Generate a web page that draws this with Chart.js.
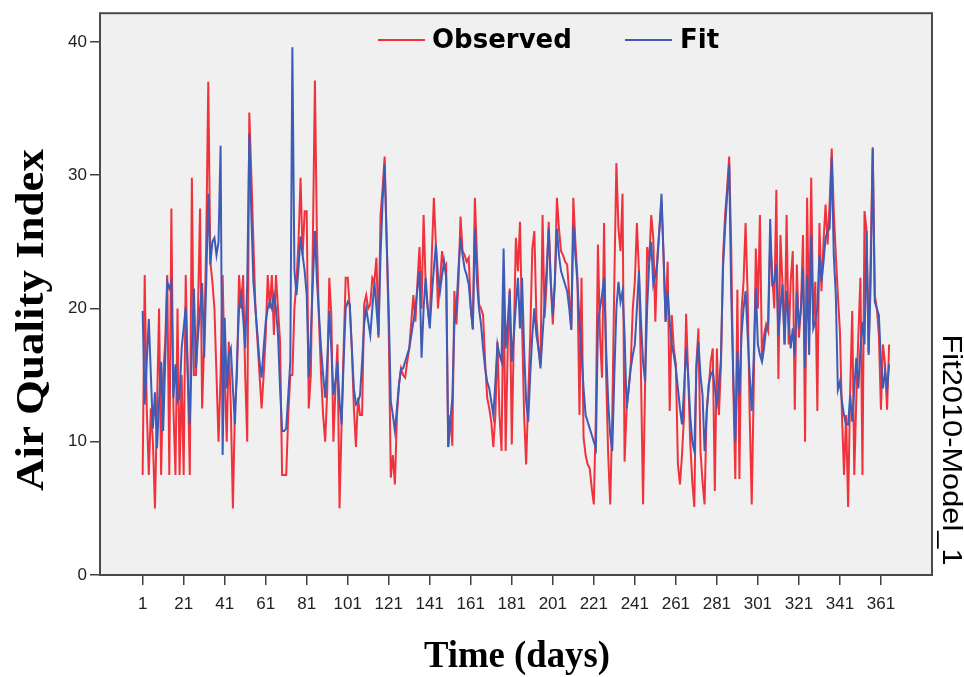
<!DOCTYPE html>
<html>
<head>
<meta charset="utf-8">
<title>Fit2010-Model_1</title>
<script src="https://cdn.jsdelivr.net/npm/chart.js@4.4.1/dist/chart.umd.min.js"></script>
<style>
  html, body { margin: 0; padding: 0; background: #ffffff; }
</style>
</head>
<body>
<canvas id="aqiChart" width="964" height="677"></canvas>
<script>
"use strict";

// Daily Air Quality Index, 2010
var OBSERVED = [
    7.5, 22.5, 12.5, 7.5, 12.5, 10, 5, 12.5, 20, 7.5,
    15, 17.5, 22.5, 7.5, 27.5, 12.5, 7.5, 20, 7.5, 15,
    7.5, 22.5, 15, 7.5, 29.8, 15, 15, 20, 27.5, 12.5,
    17.5, 25, 37, 23.5, 22, 20, 15, 10, 15, 22.5,
    15, 10, 17.5, 12.5, 5, 12.5, 15, 22.5, 20, 22.5,
    15, 10, 34.7, 30, 25, 20, 17.5, 15, 12.5, 15,
    18, 22.5, 20, 22.5, 18, 22.5, 20, 17.5, 7.5, 7.5,
    7.5, 12, 15, 15, 20, 22, 25, 29.8, 24, 27.3,
    27.3, 12.5, 15, 25, 37.1, 25, 19, 15, 12, 10,
    13.8, 22.3, 19.5, 10, 14, 17.3, 5, 11.3, 17, 22.3,
    22.3, 20, 17, 12.5, 9.6, 13.3, 12, 12, 20.3, 21,
    20, 20.3, 22.3, 22, 23.8, 17.8, 27, 29, 31.4, 25,
    18.3, 7.3, 9, 6.8, 12, 14.3, 15.5, 15, 14.8, 16,
    17, 19, 21, 19, 22, 24.6, 20, 27, 21.8, 20,
    18.8, 24, 28.3, 24.8, 20, 22, 24.3, 23, 23.3, 9.6,
    12, 9.7, 21.3, 18.8, 22, 26.9, 24.3, 24, 23.5, 23.8,
    20, 18.5, 28.3, 24, 20.3, 20, 19.5, 16, 13.3, 12.5,
    11.5, 9.6, 12, 17.5, 12, 9.3, 22, 9.3, 17, 21.5,
    9.8, 18, 25.3, 22.8, 26.5, 18.8, 12, 8.3, 13.3, 18,
    24.5, 25.8, 19.3, 17, 15.8, 27, 19.3, 22, 26.5, 22,
    18.8, 22, 28.3, 26, 24.3, 24, 23.5, 23.3, 21, 18.4,
    28.3, 25, 22.3, 12, 22.3, 10.3, 9, 8.3, 8, 6.5,
    5.3, 12, 24.8, 18, 14.8, 26.4, 15, 9, 5.3, 12,
    22, 30.9, 26, 24.3, 28.6, 8.5, 12.5, 14, 15.8, 20,
    22, 26.4, 22.8, 15, 5.3, 14.3, 24.6, 23.5, 27, 25.3,
    19, 24, 26, 28, 24, 19, 23.5, 12.3, 19.5, 17,
    15.8, 8.3, 6.8, 9, 12, 19.6, 15, 10, 7, 5.1,
    15.8, 18.5, 9.3, 7, 5.3, 12.3, 14, 16, 17, 6.3,
    17, 12, 15.8, 23.8, 27, 29, 31.4, 24.5, 14, 7.2,
    21.4, 7.2, 19.8, 22, 26.4, 21, 12, 5.3, 14.3, 24.5,
    20, 27, 16, 18, 18.8, 18.3, 25, 22.5, 20, 28.9,
    14.7, 25.5, 21.8, 17.3, 27, 17.3, 22, 24.3, 12.4, 23.3,
    17.8, 20, 25.5, 10, 28.3, 18.3, 29.8, 18.8, 22, 12.3,
    26.4, 21.3, 25, 27.8, 24.8, 28, 32, 27.3, 24, 21,
    18.3, 12, 7.5, 12, 5.1, 13.8, 19.8, 7.5, 13.3, 18,
    22.3, 7.5, 27.3, 25.8, 16.7, 24, 32.1, 21, 20, 18,
    12.4, 17.3, 15.8, 12.4, 17.3
];

var FIT = [
    19.8, 12.8, 16, 19.2, 15, 11, 13.7, 9.5, 13, 16,
    10.8, 16, 22, 21.5, 22, 13.3, 15.8, 13, 13.3, 17,
    18.5, 20.1, 15, 11.3, 17, 21.5, 15.5, 18, 20, 21.9,
    16.3, 22, 28.6, 23.3, 25, 25.3, 24, 25, 32.2, 9,
    19.3, 14, 16.5, 17, 14, 11.3, 16, 20, 21, 19.3,
    17, 22, 33.1, 27, 22, 20, 18, 16, 14.8, 17,
    19, 20, 20.5, 20, 21, 20, 18, 14, 10.8, 10.8,
    11, 13.5, 16, 39.6, 22.9, 21, 23, 25.4, 24, 22.8,
    21, 14.8, 18, 22, 25.8, 22, 19.5, 17, 15, 13.3,
    16, 19.8, 17, 13.5, 14.5, 16, 13, 11.3, 16, 20,
    20.5, 20.3, 17, 14, 12.8, 13, 13.5, 16, 18.8, 20,
    19, 18, 20, 22, 20, 18, 24, 28, 30.8, 25,
    19.8, 13, 12, 10.8, 12.5, 14.3, 15.5, 15.5, 16, 16.5,
    17, 18, 19, 20, 21.5, 22.8, 16.3, 20, 22.3, 20,
    18.5, 21, 23, 24.8, 22.5, 21.3, 22.5, 23.5, 22.3, 9.6,
    11.5, 13.3, 18.8, 20, 23, 25.3, 24, 23, 22.5, 21.8,
    20, 18.4, 26, 22, 20, 18.8, 17, 15.5, 14.5, 14,
    13, 12, 14.5, 17.3, 16.5, 16, 24.5, 17, 19, 21.3,
    16, 18, 20.3, 22.3, 18.5, 22.3, 17, 13, 11.5, 15,
    18, 20, 18, 17, 15.5, 18, 20.3, 23, 26, 22,
    19.5, 22, 26, 24, 22.8, 22.3, 21.8, 21.3, 20, 18.4,
    26.2, 24, 22, 19, 16.5, 14, 12, 11.5, 11, 10.5,
    10, 9.5, 18.8, 20, 21, 22.3, 17, 13, 10.5, 9.3,
    15, 20, 22, 20.5, 21.3, 18, 12.5, 14, 15.5, 16.5,
    17.3, 20, 22.8, 19, 16, 14.5, 20, 23.5, 25, 21.8,
    22.5, 23.5, 26, 28.6, 24, 19, 21.3, 19, 17.3, 16.5,
    15.5, 14, 12.5, 11.3, 14, 17, 15, 12, 10, 9.3,
    15.5, 17.5, 15, 13.5, 9.3, 12, 14.3, 15, 15.3, 14,
    12.8, 14, 16.3, 23, 26, 28.5, 30.8, 21, 15, 10,
    16.8, 13.5, 18, 20, 21.3, 18, 15, 12.3, 16.5, 21.5,
    17.3, 16.5, 16, 17, 18.5, 18.8, 26.7, 21.8, 22, 23.3,
    18, 20, 21.8, 17.3, 21.3, 19, 17, 18.5, 16.5, 21.3,
    18.5, 20, 23, 15.5, 22.5, 16.5, 25.5, 18.5, 19, 20,
    24, 22, 23.5, 25.3, 25.8, 26, 31.3, 24, 21, 13.9,
    14.5, 13, 12, 11.3, 11.3, 13.5, 11.5, 14, 16.3, 14,
    17, 19, 17.3, 25.8, 16.5, 22, 32, 20.5, 20, 19.5,
    16, 14, 15.3, 14, 15.8
];

var X_TICKS = [1, 21, 41, 61, 81, 101, 121, 141, 161, 181, 201, 221, 241, 261, 281, 301, 321, 341, 361];
var Y_TICKS = [0, 10, 20, 30, 40];

var X_TITLE = "Time (days)";
var Y_TITLE = "Air Quality Index";
var MODEL_NAME = "Fit2010-Model_1";

var days = [];
for (var d = 1; d <= OBSERVED.length; d++)
{
    days.push(d);
}

// draws text squeezed or stretched to a given length
function drawFitted(ctx, text, cx, cy, rotation, font, length)
{
    ctx.save();
    ctx.font = font;
    var w = ctx.measureText(text).width;
    ctx.translate(cx, cy);
    ctx.rotate(rotation);
    ctx.scale(length / w, 1);
    ctx.textAlign = "center";
    ctx.textBaseline = "middle";
    ctx.fillText(text, 0, 0);
    ctx.restore();
}

var spssFrame = {
    id: "spssFrame",
    beforeDraw: function (chart)
    {
        var a   = chart.chartArea;
        var ctx = chart.ctx;
        ctx.save();
        ctx.fillStyle = "#f0f0f0";
        ctx.fillRect(a.left, a.top, a.right - a.left, a.bottom - a.top);
        ctx.restore();
    },
    afterDraw: function (chart)
    {
        var a   = chart.chartArea;
        var ctx = chart.ctx;
        ctx.save();
        ctx.strokeStyle = "#4a4a4a";
        ctx.lineWidth   = 2;
        ctx.strokeRect(a.left, a.top, a.right - a.left, a.bottom - a.top);

        // legend, inside the plot at the top
        var items = [{x: 378, text: 432}, {x: 625, text: 680}];
        ctx.font         = "bold 26px 'DejaVu Sans'";
        ctx.textBaseline = "middle";
        ctx.textAlign    = "left";
        chart.data.datasets.forEach(function (ds, i)
        {
            var it = items[i];
            ctx.strokeStyle = ds.borderColor;
            ctx.lineWidth   = 2;
            ctx.beginPath();
            ctx.moveTo(it.x, 40);
            ctx.lineTo(it.x + 47, 40);
            ctx.stroke();
            ctx.fillStyle = "#000000";
            ctx.fillText(ds.label, it.text, 41);
        });

        ctx.fillStyle = "#000000";
        drawFitted(ctx, Y_TITLE, 33, 320, -Math.PI / 2, "bold 40px 'Liberation Serif'", 342);
        drawFitted(ctx, X_TITLE, 517, 657, 0, "bold 38px 'Liberation Serif'", 186);
        drawFitted(ctx, MODEL_NAME, 950, 450, Math.PI / 2, "27px 'Liberation Sans'", 231);
        ctx.restore();
    }
};

var tickFont = {family: "'Liberation Sans', Arial, sans-serif", size: 17};

new Chart(document.getElementById("aqiChart"), {
    type:    "line",
    data:    {
        labels:   days,
        datasets: [
            {
                label:       "Observed",
                data:        OBSERVED,
                borderColor: "#f0323c",
                borderWidth: 2,
                pointRadius: 0,
                tension:     0,
                order:       1
            },
            {
                label:       "Fit",
                data:        FIT,
                borderColor: "#3e5cb5",
                borderWidth: 2,
                pointRadius: 0,
                tension:     0,
                order:       0
            }
        ]
    },
    options: {
        responsive: false,
        animation:  false,
        layout:     {
            padding: {top: 9, right: 32, bottom: 0, left: 0}
        },
        plugins: {
            legend:  {display: false},
            tooltip: {enabled: false}
        },
        scales: {
            x: {
                type:            "linear",
                min:             -19.8,
                max:             385.9,
                afterBuildTicks: function (scale)
                {
                    scale.ticks = X_TICKS.map(function (v) { return {value: v}; });
                },
                afterFit:        function (scale)
                {
                    scale.height = 102;
                },
                ticks:  {
                    autoSkip:    false,
                    maxRotation: 0,
                    padding:     9,
                    color:       "#222222",
                    font:        tickFont
                },
                grid:   {
                    drawOnChartArea: false,
                    tickLength:      10,
                    color:           "#404040",
                    lineWidth:       1.5
                },
                border: {display: false}
            },
            y: {
                min:             0,
                max:             42.15,
                afterBuildTicks: function (scale)
                {
                    scale.ticks = Y_TICKS.map(function (v) { return {value: v}; });
                },
                afterFit:        function (scale)
                {
                    scale.width = 100;
                },
                ticks:  {
                    padding: 3,
                    color:   "#222222",
                    font:    tickFont
                },
                grid:   {
                    drawOnChartArea: false,
                    tickLength:      10,
                    color:           "#404040",
                    lineWidth:       1.5
                },
                border: {display: false}
            }
        }
    },
    plugins: [spssFrame]
});
</script>
</body>
</html>
